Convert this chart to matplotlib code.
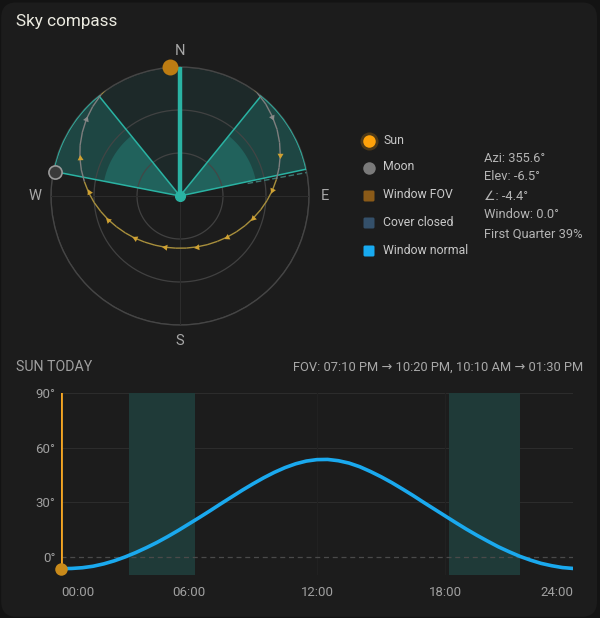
import numpy as np
import matplotlib
matplotlib.use('Agg')
import matplotlib.pyplot as plt
from matplotlib.patches import FancyBboxPatch

plt.rcParams['font.family'] = ['Roboto', 'DejaVu Sans']

# sun track for today, every half hour (hour, elevation deg, azimuth deg)
hours = np.arange(0, 24.5, 0.5)
sun_elev = [-6.5, -6.4, -6.0, -5.2, -3.9, -2.2, -0.1, 2.3, 5.0, 7.9,
            11.1, 14.5, 18.1, 21.7, 25.4, 29.2, 32.9, 36.6, 40.1, 43.4,
            46.4, 49.0, 51.1, 52.6, 53.4, 53.5, 52.8, 51.5, 49.5, 46.9,
            44.0, 40.8, 37.3, 33.7, 29.9, 26.2, 22.5, 18.8, 15.2, 11.8,
            8.6, 5.5, 2.8, 0.3, -1.8, -3.6, -4.9, -5.9, -6.4]
sun_azi = [355.6, 2.8, 9.7, 16.5, 23.3, 30.0, 36.5, 43.0, 49.3, 55.6,
           61.7, 67.9, 74.0, 80.2, 86.5, 93.0, 99.7, 106.8, 114.4, 122.5,
           131.2, 140.6, 150.9, 161.7, 173.1, 184.6, 196.0, 207.0, 217.4, 227.0,
           235.9, 244.1, 251.7, 258.9, 265.7, 272.2, 278.6, 284.8, 290.9, 297.0,
           303.2, 309.4, 315.7, 322.2, 328.7, 335.4, 342.1, 349.0, 355.9]

# arrows along the path
arrow_hours = [5.5, 7.0, 8.5, 10.0, 11.5, 13.0, 14.5, 16.0, 17.5, 19.0]
arrow_hours_grey = [4.0, 20.5]

# current state
now_hour = 0.0
sun_now_azi = 355.6
sun_now_elev = -6.5
moon_azi = 281
window_normal = 0.0

# window field of view (azimuth ranges) and min elevation for the bright part
fov_wedges = [(281, 321), (39, 78)]
fov_bright_elev = 36
fov_start = [3.2, 18.2]
fov_end = [6.3, 21.5]

legend_labels = ['Sun', 'Moon', 'Window FOV', 'Cover closed', 'Window normal']
legend_colors = ['#ffa20a', '#7a7a7a', '#8a5a18', '#34506a', '#18aaf0']
info_lines = ['Azi: 355.6°', 'Elev: -6.5°', '∠: -4.4°', 'Window: 0.0°', 'First Quarter 39%']
fov_text = 'FOV: 07:10 PM → 10:20 PM, 10:10 AM → 01:30 PM'

TEAL = '#2ab3a3'
BG = '#1c1c1c'
GRID = '#454545'

fig = plt.figure(figsize=(6, 6.18), dpi=100)
fig.patch.set_facecolor('#131313')
fig.patches.append(FancyBboxPatch((0.002, 0.002), 0.993, 0.994,
                                  boxstyle='round,pad=0,rounding_size=0.025',
                                  transform=fig.transFigure, fc=BG, ec='none', zorder=-10))

# ---------------- overlay for free text (pixel coords) ----------------
ov = fig.add_axes([0, 0, 1, 1])
ov.set_xlim(0, 600)
ov.set_ylim(618, 0)
ov.axis('off')
ov.patch.set_alpha(0)

ov.text(16, 21.5, 'Sky compass', fontsize=12.3, color='#ebeae0', va='center', ha='left')
ov.text(16, 367, 'SUN TODAY', fontsize=10.2, color='#a0a0a0', va='center', ha='left')
ov.text(583, 367, fov_text, fontsize=9.3, color='#a8a8a8', va='center', ha='right')

leg_y = [141, 168, 196, 223, 251]
for lab, col, y in zip(legend_labels, legend_colors, leg_y):
    if lab in ('Sun', 'Moon'):
        if lab == 'Sun':
            ov.plot(369, y, 'o', ms=13, color=col, alpha=0.22, mec='none')
        ov.plot(369, y, 'o', ms=9, color=col, mec='none')
    else:
        ov.add_patch(FancyBboxPatch((363.5, y - 5.5), 11, 11,
                                    boxstyle='round,pad=0,rounding_size=1.5',
                                    fc=col, ec='none'))
    ov.text(383, y - 1, lab, fontsize=8.8, color='#c8c8c8', va='center', ha='left')

for i, line in enumerate(info_lines):
    ov.text(484, 158 + i * 19, line, fontsize=9.3, color='#b4b4b4', va='center', ha='left')

# ---------------- compass (polar) ----------------
ax = fig.add_axes([51 / 600, 1 - 325 / 618, 258 / 600, 258 / 618], projection='polar')
ax.set_theta_zero_location('N')
ax.set_theta_direction(-1)
ax.set_rlim(0, 90)
ax.set_xticks([])
ax.set_yticks([])
ax.grid(False)
ax.patch.set_alpha(0)
ax.spines['polar'].set_color(GRID)
ax.spines['polar'].set_linewidth(1)

def arc(a0, a1, n=80):
    return np.deg2rad(np.linspace(a0, a1, n))

# sector between the wedges (through north)
left_a, right_a = fov_wedges[0][0], fov_wedges[1][1]
th = arc(left_a - 360, right_a)
ax.fill(np.concatenate([[0], th, [0]]), np.concatenate([[0], np.full(th.size, 90), [0]]),
        color='#1d2929', zorder=1, lw=0)

r_bright = 90 - fov_bright_elev
for a0, a1 in fov_wedges:
    th = arc(a0, a1)
    ax.fill(np.concatenate([[0], th, [0]]), np.concatenate([[0], np.full(th.size, 90), [0]]),
            color='#1e4643', zorder=2, lw=0)
    ax.fill(np.concatenate([[0], th, [0]]), np.concatenate([[0], np.full(th.size, r_bright), [0]]),
            color='#21625c', zorder=3, lw=0)

# grid circles and cross
for r in (30, 60, 90):
    ax.plot(arc(0, 360, 200), np.full(200, r), color=GRID, lw=0.9, zorder=4, alpha=0.9)
for a in (0, 90):
    ax.plot(np.deg2rad([a, a + 180]), [90, 90], color='#2c2c2c', lw=0.8, zorder=4)

# wedge edges
for a0, a1 in fov_wedges:
    ax.plot(np.deg2rad([a0, a0]), [0, 90], color=TEAL, lw=1.1, zorder=6)
    ax.plot(np.deg2rad([a1, a1]), [0, 90], color=TEAL, lw=1.1, zorder=6)
    ax.plot(arc(a0, a1), np.full(80, 90), color=TEAL, lw=1.3, zorder=6)
ax.plot(np.deg2rad([79.5, 79.5]), [48, 90], color='#3d7a74', lw=1, ls=(0, (4, 2)), zorder=5)

# sun path, grey where the sun is inside the window FOV
theta = np.deg2rad(np.unwrap(sun_azi, period=360))
rr = 90 - np.array(sun_elev)
for i in range(len(hours) - 1):
    mid = (hours[i] + hours[i + 1]) / 2
    in_fov = any(s <= mid <= e for s, e in zip(fov_start, fov_end))
    ax.plot(theta[i:i + 2], rr[i:i + 2], color='#7e7e7e' if in_fov else '#a88f3c',
            lw=1.0, zorder=7, solid_capstyle='butt')

fig.canvas.draw()
trans = ax.transData
def put_arrows(hlist, col):
    for h in hlist:
        i = int(round(h * 2))
        p0 = trans.transform((theta[i - 1], rr[i - 1]))
        p1 = trans.transform((theta[i + 1], rr[i + 1]))
        ang = np.degrees(np.arctan2(p1[1] - p0[1], p1[0] - p0[0]))
        ax.plot(theta[i], rr[i], marker=(3, 0, ang - 90), ms=5, color=col,
                mec='none', zorder=8, clip_on=False)
put_arrows(arrow_hours, '#cfa132')
put_arrows(arrow_hours_grey, '#8a8a8a')

# window normal
ax.plot(np.deg2rad([window_normal, window_normal]), [0, 90], color=TEAL, lw=3.2, zorder=9,
        solid_capstyle='butt')
ax.plot(0, 0, 'o', ms=7, color=TEAL, zorder=10)

# sun and moon now
ax.plot(np.deg2rad(sun_now_azi), min(90, 90 - sun_now_elev), 'o', ms=11.5,
        color='#bd7c12', mec='none', zorder=11, clip_on=False)
ax.plot(np.deg2rad(moon_azi), 88.5, 'o', ms=9.5, mfc='#3a3a3a', mec='#9a9a9a', mew=1.2,
        zorder=11, clip_on=False)

for lab, a in zip('NESW', (0, 90, 180, 270)):
    ax.text(np.deg2rad(a), 101, lab, fontsize=10.5, color='#a8a8a8', ha='center',
            va='center', clip_on=False)

# ---------------- sun today ----------------
ax2 = fig.add_axes([61 / 600, 43 / 618, 512 / 600, 182 / 618])
ax2.patch.set_alpha(0)
ax2.set_xlim(0, 24)
ax2.set_ylim(-10, 90)
for s in ax2.spines.values():
    s.set_visible(False)
for s, e in zip(fov_start, fov_end):
    ax2.axvspan(s, e, ymin=0, ymax=1, color='#1f3a38', lw=0, zorder=1)
for y in (30, 60, 90):
    ax2.axhline(y, color='#2c2c2c', lw=0.8, zorder=0)
for x in (6, 12, 18):
    ax2.axvline(x, color='#212121', lw=0.8, zorder=0)
ax2.axhline(0, color='#4a4a4a', lw=0.9, ls=(0, (4, 3)), zorder=2)

ax2.plot(hours, sun_elev, color='#1aa9ee', lw=2.6, zorder=3, solid_capstyle='round')
ax2.axvline(now_hour, color='#f5a623', lw=2, zorder=4)
ax2.plot(now_hour, sun_now_elev, 'o', ms=9, color='#c98a1a', mec='none', zorder=5, clip_on=False)

ax2.set_yticks([0, 30, 60, 90])
ax2.set_yticklabels(['0°', '30°', '60°', '90°'])
ax2.set_xticks([0, 6, 12, 18, 24])
ax2.set_xticklabels(['00:00', '06:00', '12:00', '18:00', '24:00'])
ax2.tick_params(length=0, colors='#a0a0a0', labelsize=9.5)
ax2.tick_params(axis='y', pad=4)
ax2.tick_params(axis='x', pad=8)
xl = ax2.get_xticklabels()
xl[0].set_ha('left')
xl[-1].set_ha('right')

fig.savefig('out.png', dpi=100, facecolor=fig.get_facecolor())
